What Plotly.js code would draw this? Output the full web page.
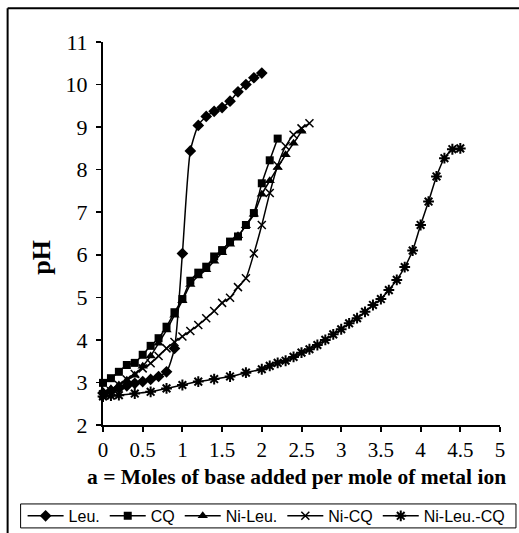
<!DOCTYPE html>
<html>
<head>
<meta charset="utf-8">
<script src="https://cdn.plot.ly/plotly-3.0.1.min.js"></script>
<style>
html,body{margin:0;padding:0;background:#fff;}
#chart{width:519px;height:533px;}
</style>
</head>
<body>
<div id="chart"></div>
<script>
// Data
var seriesNames = ["Leu.", "CQ", "Ni-Leu.", "Ni-CQ", "Ni-Leu.-CQ"];

var leuX = [0,0.1,0.2,0.3,0.4,0.5,0.6,0.7,0.8,0.9,1.0,1.1,1.2,1.3,1.4,1.5,1.6,1.7,1.8,1.9,2.0];
var leuY = [2.75,2.8,2.86,2.92,2.98,3.02,3.07,3.14,3.25,3.8,6.03,8.44,9.04,9.25,9.37,9.46,9.61,9.83,10.0,10.16,10.27];

var cqX = [0,0.1,0.2,0.3,0.4,0.5,0.6,0.7,0.8,0.9,1.0,1.1,1.2,1.3,1.4,1.5,1.6,1.7,1.8,1.9,2.0,2.1,2.2];
var cqY = [2.99,3.10,3.25,3.41,3.46,3.65,3.86,4.04,4.31,4.65,4.96,5.39,5.58,5.72,5.96,6.11,6.31,6.43,6.70,6.98,7.68,8.22,8.73];

var niLeuX = [0,0.1,0.2,0.3,0.4,0.5,0.6,0.7,0.8,0.9,1.0,1.1,1.2,1.3,1.4,1.5,1.6,1.7,1.8,1.9,2.0,2.1,2.2,2.3,2.4,2.5];
var niLeuY = [2.78,2.85,2.94,3.05,3.17,3.38,3.62,3.92,4.23,4.58,4.92,5.3,5.5,5.65,5.85,6.05,6.25,6.45,6.68,6.95,7.42,7.74,8.05,8.35,8.62,8.9];

var niCqX = [0,0.1,0.2,0.3,0.4,0.5,0.6,0.7,0.8,0.9,1.0,1.1,1.2,1.3,1.4,1.5,1.6,1.7,1.8,1.9,2.0,2.1,2.2,2.3,2.4,2.5,2.6];
var niCqY = [2.72,2.8,2.94,3.07,3.2,3.33,3.45,3.62,3.80,3.95,4.08,4.21,4.35,4.51,4.68,4.87,4.99,5.24,5.45,6.03,6.70,7.45,8.1,8.55,8.82,8.97,9.09];

var niLeuCqX = [0,0.1,0.2,0.4,0.6,0.8,1.0,1.2,1.4,1.6,1.8,2.0,2.1,2.2,2.3,2.4,2.5,2.6,2.7,2.8,2.9,3.0,3.1,3.2,3.3,3.4,3.5,3.6,3.7,3.8,3.9,4.0,4.1,4.2,4.3,4.4,4.5];
var niLeuCqY = [2.67,2.69,2.70,2.74,2.78,2.86,2.94,3.02,3.08,3.14,3.23,3.31,3.39,3.46,3.51,3.6,3.7,3.78,3.88,4.0,4.13,4.25,4.39,4.51,4.66,4.82,4.96,5.17,5.41,5.71,6.10,6.70,7.25,7.84,8.27,8.48,8.5];

var xTicks = [0,0.5,1,1.5,2,2.5,3,3.5,4,4.5,5];
var yTicks = [2,3,4,5,6,7,8,9,10,11];
var xTitle = 'a = Moles of base added per mole of metal ion';
var yTitle = 'pH';

var lineStyle = {color:'#000', width:1.5, shape:'spline', smoothing:0.6};

function tr(name, x, y, marker) {
  return {type:'scatter', mode:'lines+markers', name:name, x:x, y:y,
          line:lineStyle, marker:marker, cliponaxis:false};
}

var traces = [
  tr(seriesNames[0], leuX, leuY, {symbol:'diamond', size:9, color:'#000'}),
  tr(seriesNames[1], cqX, cqY, {symbol:'square', size:8, color:'#000'}),
  tr(seriesNames[2], niLeuX, niLeuY, {symbol:'triangle-up', size:9, color:'#000'}),
  tr(seriesNames[3], niCqX, niCqY, {symbol:'x-thin-open', size:8, color:'#000', line:{color:'#000', width:1.5}}),
  tr(seriesNames[4], niLeuCqX, niLeuCqY, {symbol:'asterisk-open', size:9, color:'#000', line:{color:'#000', width:2}})
];

var L = 102.5, R = 500, T = 41.7, B = 425;
function px(v){ return (v - L) / (R - L); }
function py(v){ return (B - v) / (B - T); }

var layout = {
  width:519, height:533,
  margin:{l:L, r:519-R, t:T, b:533-B, pad:0, autoexpand:false},
  paper_bgcolor:'#fff', plot_bgcolor:'#fff',
  showlegend:true,
  font:{family:'"Liberation Serif", "Times New Roman", serif', color:'#000'},
  xaxis:{
    range:[0,5], tickvals:xTicks, ticktext:xTicks.map(String),
    showgrid:false, zeroline:false, showline:true, linecolor:'#000', linewidth:2,
    ticks:'outside', ticklen:5, tickwidth:2, tickcolor:'#000',
    tickfont:{size:21, family:'"Liberation Serif", serif'},
    ticklabelstandoff:0,
    fixedrange:true
  },
  yaxis:{
    range:[2,11], tickvals:yTicks, ticktext:yTicks.map(String),
    showgrid:false, zeroline:false, showline:true, linecolor:'#000', linewidth:2,
    ticks:'outside', ticklen:5, tickwidth:1.5, tickcolor:'#000',
    tickfont:{size:22, family:'"Liberation Serif", serif'},
    ticklabelstandoff:4,
    fixedrange:true
  },
  annotations:[
    {
      text:'<b>' + yTitle + '</b>', textangle:-90, xref:'paper', yref:'paper',
      x:px(41), y:py(257), xanchor:'center', yanchor:'middle', showarrow:false,
      font:{size:26, family:'"Liberation Serif", serif', color:'#000'}
    },
    {
      text:'<b>' + xTitle + '</b>', xref:'paper', yref:'paper',
      x:px(296), y:py(477), xanchor:'center', yanchor:'middle', showarrow:false,
      font:{size:21.5, family:'"Liberation Serif", serif', color:'#000'}
    }
  ],
  legend:{
    orientation:'h', xref:'paper', yref:'paper',
    x:px(22), y:py(516), xanchor:'left', yanchor:'middle',
    borderwidth:0, bgcolor:'rgba(0,0,0,0)',
    font:{size:16, family:'"Liberation Sans", Arial, sans-serif', color:'#000'},
    tracegroupgap:0, itemwidth:36
  },
  shapes:[
    {type:'line', xref:'paper', yref:'paper', x0:px(7), x1:px(530), y0:py(8), y1:py(8), line:{color:'#000', width:2}},
    {type:'line', xref:'paper', yref:'paper', x0:px(7), x1:px(7), y0:py(8), y1:py(540), line:{color:'#000', width:2}},
    {type:'rect', xref:'paper', yref:'paper', x0:px(20), x1:px(516), y0:py(504), y1:py(528), line:{color:'#000', width:1}, fillcolor:'rgba(0,0,0,0)'}
  ]
};

Plotly.newPlot('chart', traces, layout, {staticPlot:true, displayModeBar:false});
</script>
</body>
</html>
